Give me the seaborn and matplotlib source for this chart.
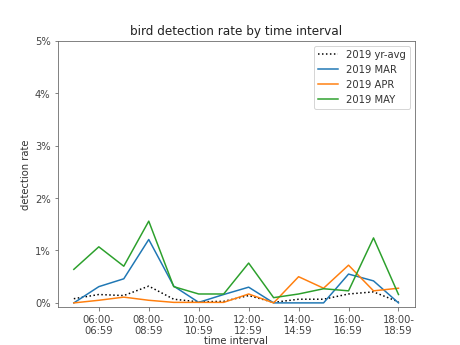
import matplotlib
matplotlib.use("Agg")
import matplotlib.pyplot as plt
from matplotlib.ticker import PercentFormatter
import seaborn as sns
import pandas as pd

hours = [5, 6, 7, 8, 9, 10, 11, 12, 13, 14, 15, 16, 17, 18]
yr_avg = [0.08, 0.16, 0.14, 0.32, 0.07, 0.02, 0.03, 0.14, 0.01, 0.07, 0.07, 0.17, 0.21, 0.02]
mar = [0.0, 0.31, 0.46, 1.21, 0.32, 0.01, 0.16, 0.30, 0.0, 0.0, 0.0, 0.55, 0.42, 0.0]
apr = [0.0, 0.05, 0.11, 0.05, 0.01, 0.01, 0.01, 0.17, 0.0, 0.50, 0.28, 0.72, 0.23, 0.28]
may = [0.64, 1.07, 0.70, 1.56, 0.31, 0.17, 0.17, 0.76, 0.10, 0.17, 0.27, 0.23, 1.24, 0.16]

tick_hours = [6, 8, 10, 12, 14, 16, 18]
tick_labels = ["06:00-\n06:59", "08:00-\n08:59", "10:00-\n10:59", "12:00-\n12:59",
               "14:00-\n14:59", "16:00-\n16:59", "18:00-\n18:59"]

series = [("2019 yr-avg", yr_avg, "black", ":"),
          ("2019 MAR", mar, "#1f77b4", "-"),
          ("2019 APR", apr, "#ff7f0e", "-"),
          ("2019 MAY", may, "#2ca02c", "-")]

plt.rcParams.update({
    "text.color": "#333333",
    "axes.labelcolor": "#333333",
    "xtick.color": "#666666",
    "ytick.color": "#666666",
    "xtick.labelcolor": "#444444",
    "ytick.labelcolor": "#444444",
    "axes.edgecolor": "#666666",
})

fig, ax = plt.subplots(figsize=(6.4, 4.8), dpi=72)
for name, vals, color, ls in series:
    df = pd.DataFrame({"hour": hours, "rate": vals})
    sns.lineplot(data=df, x="hour", y="rate", ax=ax, color=color, linestyle=ls,
                 label=name, linewidth=1.5)

ax.set_ylim(top=5)
ax.yaxis.set_major_formatter(PercentFormatter(100, decimals=0))
ax.set_xticks(tick_hours)
ax.set_xticklabels(tick_labels)
ax.set_xlabel("time interval", labelpad=0)
ax.set_ylabel("detection rate")
ax.set_title("bird detection rate by time interval", color="#222222")
ax.legend(loc="upper right")
fig.savefig("out.png", dpi=72)
